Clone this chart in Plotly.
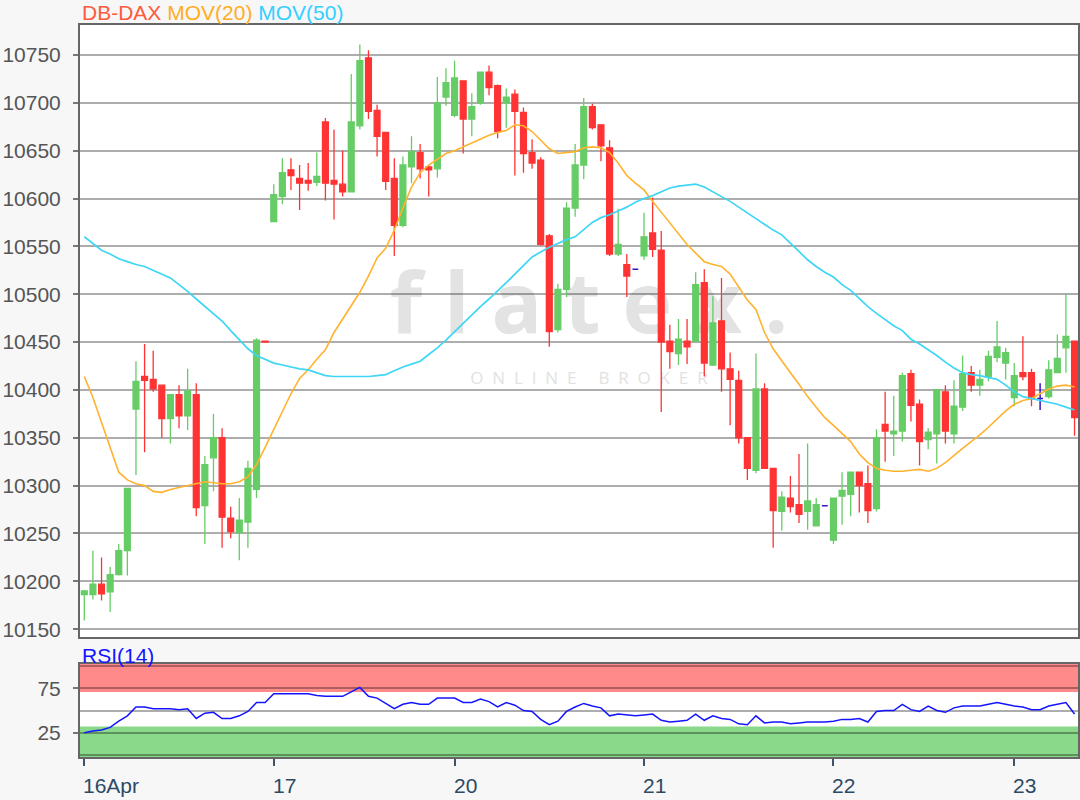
import plotly.graph_objects as go

# ---------------- data ----------------
opens = [10186, 10186, 10197, 10189, 10207, 10232, 10380, 10414, 10411, 10405,
         10370, 10395, 10373, 10395, 10279, 10329, 10350, 10266, 10251, 10262,
         10296, 10451, 10576, 10602, 10630, 10621, 10619, 10617, 10680, 10619,
         10615, 10607, 10676, 10747, 10692, 10669, 10621, 10572, 10633, 10648,
         10633, 10631, 10706, 10687, 10723, 10683, 10700, 10732, 10718, 10700,
         10709, 10690, 10648, 10640, 10561, 10463, 10505, 10590, 10635, 10696,
         10677, 10653, 10542, 10531, 10526, 10540, 10564, 10546, 10451, 10438,
         10451, 10451, 10512, 10426, 10472, 10422, 10410, 10350, 10316, 10401,
         10318, 10273, 10287, 10280, 10273, 10258, 10279, 10243, 10289, 10291,
         10314, 10302, 10276, 10364, 10354, 10357, 10417, 10385, 10348, 10354,
         10398, 10354, 10382, 10418, 10405, 10414, 10434, 10428, 10392, 10418,
         10418, 10391, 10393, 10418, 10444, 10451]
highs = [10191, 10232, 10225, 10215, 10239, 10297, 10430, 10448, 10441, 10405,
         10395, 10405, 10422, 10407, 10331, 10375, 10360, 10278, 10287, 10326,
         10454, 10451, 10615, 10642, 10642, 10635, 10637, 10648, 10684, 10672,
         10650, 10730, 10761, 10755, 10698, 10669, 10642, 10644, 10665, 10657,
         10635, 10727, 10736, 10744, 10723, 10710, 10732, 10739, 10719, 10715,
         10714, 10695, 10662, 10643, 10563, 10511, 10596, 10657, 10705, 10699,
         10677, 10661, 10589, 10542, 10526, 10585, 10601, 10566, 10468, 10474,
         10474, 10523, 10526, 10498, 10517, 10439, 10420, 10350, 10438, 10407,
         10318, 10294, 10310, 10333, 10344, 10287, 10279, 10287, 10314, 10314,
         10314, 10321, 10359, 10398, 10394, 10418, 10421, 10390, 10360, 10401,
         10405, 10410, 10436, 10425, 10421, 10441, 10472, 10444, 10428, 10456,
         10422, 10407, 10431, 10458, 10500, 10451]
lows = [10159, 10181, 10180, 10168, 10206, 10206, 10311, 10335, 10398, 10350,
        10344, 10360, 10358, 10268, 10239, 10294, 10235, 10245, 10222, 10235,
        10287, 10450, 10576, 10594, 10609, 10588, 10608, 10613, 10598, 10578,
        10602, 10607, 10672, 10683, 10644, 10609, 10540, 10570, 10616, 10621,
        10602, 10622, 10697, 10685, 10647, 10665, 10698, 10708, 10663, 10674,
        10624, 10627, 10631, 10551, 10445, 10460, 10497, 10581, 10620, 10672,
        10639, 10540, 10540, 10497, 10526, 10536, 10539, 10377, 10422, 10426,
        10427, 10451, 10414, 10425, 10398, 10363, 10344, 10306, 10313, 10318,
        10235, 10253, 10272, 10261, 10254, 10258, 10279, 10239, 10259, 10268,
        10272, 10261, 10273, 10325, 10331, 10346, 10367, 10321, 10338, 10323,
        10344, 10344, 10378, 10398, 10394, 10409, 10429, 10411, 10383, 10410,
        10383, 10379, 10391, 10418, 10418, 10352]
closes = [10190, 10197, 10187, 10207, 10232, 10297, 10409, 10410, 10401, 10370,
          10395, 10373, 10399, 10277, 10322, 10350, 10267, 10252, 10264, 10318,
          10452, 10450, 10604, 10627, 10624, 10616, 10616, 10623, 10616, 10615,
          10607, 10680, 10744, 10691, 10665, 10618, 10572, 10635, 10649, 10631,
          10630, 10700, 10721, 10726, 10683, 10696, 10732, 10716, 10670, 10706,
          10691, 10647, 10637, 10552, 10461, 10505, 10590, 10635, 10696, 10674,
          10655, 10542, 10552, 10519, 10526, 10560, 10547, 10450, 10440, 10453,
          10445, 10510, 10428, 10470, 10422, 10411, 10350, 10318, 10401, 10318,
          10274, 10288, 10278, 10270, 10284, 10280, 10279, 10287, 10295, 10314,
          10300, 10274, 10350, 10357, 10357, 10415, 10384, 10346, 10356, 10400,
          10357, 10383, 10417, 10405, 10411, 10435, 10445, 10439, 10415, 10414,
          10391, 10391, 10421, 10433, 10456, 10371]
mov20 = [10414, 10392, 10366, 10340, 10314, 10306, 10302, 10300, 10294, 10293,
         10296, 10298, 10300, 10302, 10304, 10303, 10302, 10302, 10304, 10309,
         10322, 10340, 10359, 10378, 10396, 10412, 10421, 10432, 10442, 10460,
         10474, 10488, 10502, 10519, 10538, 10548, 10567, 10590, 10612, 10627,
         10635, 10641, 10647, 10650, 10654, 10658, 10662, 10666, 10669, 10671,
         10677, 10676, 10670, 10661, 10652, 10647, 10648, 10649, 10653, 10654,
         10653, 10648, 10637, 10624, 10616, 10609, 10597, 10586, 10575, 10564,
         10552, 10543, 10534, 10531, 10529, 10521, 10507, 10494, 10484, 10460,
         10443, 10430, 10418, 10406, 10393, 10382, 10371, 10363, 10354, 10346,
         10333, 10324, 10318, 10316, 10315, 10315, 10316, 10317, 10315, 10318,
         10324, 10332, 10339, 10346, 10353, 10361, 10370, 10378, 10385, 10389,
         10391, 10396, 10401, 10404, 10405, 10403]
mov50 = [10560, 10553, 10546, 10542, 10537, 10534, 10531, 10529, 10525, 10521,
         10517, 10510, 10503, 10495, 10487, 10480, 10472, 10462, 10452, 10443,
         10436, 10432, 10428, 10426, 10424, 10422, 10421, 10418, 10415, 10414,
         10414, 10414, 10414, 10414, 10415, 10416, 10420, 10424, 10427, 10430,
         10437, 10444, 10452, 10461, 10470, 10478, 10487, 10495, 10503, 10512,
         10521, 10530, 10539, 10544, 10549, 10553, 10557, 10560, 10568, 10575,
         10580, 10583, 10587, 10591, 10596, 10600, 10603, 10607, 10611, 10613,
         10614, 10615, 10612, 10607, 10602, 10597, 10591, 10585, 10579, 10573,
         10567, 10562, 10553, 10545, 10536, 10529, 10523, 10518, 10510, 10504,
         10495, 10487, 10480, 10473, 10467, 10462, 10453, 10448, 10442, 10436,
         10429, 10423, 10418, 10416, 10415, 10413, 10411, 10405, 10398, 10393,
         10391, 10389, 10387, 10385, 10382, 10379]
rsi14 = [25, 27, 28, 31, 38, 44, 54, 54, 52, 52,
         52, 51, 52, 41, 47, 48, 41, 41, 44, 49,
         59, 59, 69, 69, 69, 69, 69, 67, 66, 66,
         66, 71, 76, 66, 64, 58, 52, 57, 59, 57,
         57, 64, 64, 64, 59, 59, 63, 60, 54, 59,
         56, 50, 49, 40, 34, 38, 49, 54, 58, 55,
         53, 44, 46, 45, 44, 45, 46, 39, 37, 38,
         39, 46, 39, 44, 41, 40, 35, 34, 44, 36,
         37, 37, 35, 36, 37, 37, 37, 38, 40, 40,
         41, 37, 49, 50, 50, 57, 51, 49, 55, 50,
         48, 53, 55, 55, 55, 57, 59, 57, 55, 54,
         51, 51, 55, 57, 59, 46]
day_ticks = [0, 22, 43, 65, 87, 108]
day_labels = ["16Apr", "17", "20", "21", "22", "23"]
price_ticks = [10150, 10200, 10250, 10300, 10350, 10400, 10450,
               10500, 10550, 10600, 10650, 10700, 10750]
rsi_ticks = [25, 75]

# ---------------- styling ----------------
FONT = "Liberation Sans, Arial, sans-serif"
GREEN = "#66cc66"
RED = "#ff3333"
BLUE_DOJI = "#3a16c8"
ORANGE = "#ffb22e"
CYAN = "#3fd6f5"
GRID = "rgba(0,0,0,0.32)"
FRAME = "#666666"

n = len(closes)
xs = list(range(n))
reg = [i for i in xs if opens[i] != closes[i]]
doji = [i for i in xs if opens[i] == closes[i]]

fig = go.Figure()
fig.add_trace(go.Candlestick(
    x=reg,
    open=[opens[i] for i in reg], high=[highs[i] for i in reg],
    low=[lows[i] for i in reg], close=[closes[i] for i in reg],
    increasing=dict(line=dict(color=GREEN, width=1.3), fillcolor=GREEN),
    decreasing=dict(line=dict(color=RED, width=1.3), fillcolor=RED),
    whiskerwidth=0, xaxis="x", yaxis="y", showlegend=False, hoverinfo="skip"))
fig.add_trace(go.Candlestick(
    x=doji,
    open=[opens[i] for i in doji], high=[highs[i] for i in doji],
    low=[lows[i] for i in doji], close=[closes[i] for i in doji],
    increasing=dict(line=dict(color=BLUE_DOJI, width=1.5), fillcolor=BLUE_DOJI),
    decreasing=dict(line=dict(color=BLUE_DOJI, width=1.5), fillcolor=BLUE_DOJI),
    whiskerwidth=0, xaxis="x", yaxis="y", showlegend=False, hoverinfo="skip"))
fig.add_trace(go.Scatter(x=xs, y=mov20, mode="lines", xaxis="x", yaxis="y",
                         line=dict(color=ORANGE, width=1.6), showlegend=False, hoverinfo="skip"))
fig.add_trace(go.Scatter(x=xs, y=mov50, mode="lines", xaxis="x", yaxis="y",
                         line=dict(color=CYAN, width=1.7), showlegend=False, hoverinfo="skip"))
fig.add_trace(go.Scatter(x=xs, y=rsi14, mode="lines", xaxis="x2", yaxis="y2",
                         line=dict(color="#1414ff", width=1.5), showlegend=False, hoverinfo="skip"))

XR = [-0.5, 115.4]

fig.update_layout(
    width=1080, height=800,
    margin=dict(l=80, r=2, t=25, b=43, autoexpand=False),
    paper_bgcolor="#f7f7f7", plot_bgcolor="#ffffff",
    showlegend=False, boxgap=0.2, boxgroupgap=0.15,
    font=dict(family=FONT),
    xaxis=dict(domain=[0, 1], anchor="y", range=XR, showticklabels=False, ticks="",
               showgrid=False, zeroline=False, showline=True, mirror=True, automargin=False,
               linecolor=FRAME, linewidth=2, rangeslider=dict(visible=False)),
    yaxis=dict(domain=[0.1639, 1], anchor="x", range=[10141.8, 10781.3], automargin=False,
               tickvals=price_ticks, ticktext=[str(v) for v in price_ticks],
               ticks="outside", ticklen=5, tickcolor="#777777", tickwidth=1.5,
               ticklabelstandoff=8,
               tickfont=dict(size=21, color="#555555", family=FONT),
               showgrid=True, gridcolor=GRID, gridwidth=1.5, zeroline=False,
               showline=True, mirror=True, linecolor=FRAME, linewidth=2),
    xaxis2=dict(domain=[0, 1], anchor="y2", range=XR, matches="x", automargin=False,
                tickvals=day_ticks, ticks="outside", ticklen=7, tickwidth=2,
                tickcolor="#3d5468", showticklabels=False, showgrid=False,
                zeroline=False, showline=True, mirror=True, linecolor=FRAME, linewidth=2),
    yaxis2=dict(domain=[0, 0.127], anchor="x2", range=[-2.4, 102.4], automargin=False,
                tickvals=rsi_ticks, ticktext=[str(v) for v in rsi_ticks],
                ticks="outside", ticklen=5, tickcolor="#777777", tickwidth=1.5,
                ticklabelstandoff=8,
                tickfont=dict(size=21, color="#555555", family=FONT),
                showgrid=True, gridcolor=GRID, gridwidth=1.5, zeroline=False,
                minor=dict(tickvals=[0, 50, 100], showgrid=True, gridcolor=GRID,
                           gridwidth=1.5, ticks=""),
                showline=True, mirror=True, linecolor=FRAME, linewidth=2),
)

shapes = [
    dict(type="rect", xref="x2 domain", yref="y2", x0=0, x1=1, y0=71, y1=102.4,
         fillcolor="#ff8a8a", line=dict(width=0), layer="below"),
    dict(type="rect", xref="x2 domain", yref="y2", x0=0, x1=1, y0=-2.4, y1=32,
         fillcolor="#8ad88a", line=dict(width=0), layer="below"),
    dict(type="rect", xref="paper", yref="paper", x0=0.28, x1=0.74, y0=0.57, y1=0.66,
         line=dict(width=0), fillcolor="rgba(0,0,0,0)", layer="below",
         label=dict(text="f\u00a0l\u00a0a\u00a0t\u00a0e\u00a0x\u00a0.", textposition="middle center",
                    font=dict(size=84, color="#e3e3e3", family="Open Sans", weight="bold"))),
    dict(type="rect", xref="paper", yref="paper", x0=0.28, x1=0.74, y0=0.50, y1=0.535,
         line=dict(width=0), fillcolor="rgba(0,0,0,0)", layer="below",
         label=dict(text="\u00a0\u00a0".join("ONLINE") + "\u00a0\u00a0\u00a0\u00a0\u00a0" + "\u00a0\u00a0".join("BROKER"),
                    textposition="middle center",
                    font=dict(size=17, color="#e2e2e2", family="Open Sans"))),
]
fig.update_layout(shapes=shapes)

annotations = [
    dict(xref="paper", yref="paper", x=0, y=1.0164, xanchor="left", yanchor="middle",
         showarrow=False,
         text='<span style="color:#ff5a3c">DB-DAX</span> '
              '<span style="color:#ffad1f">MOV(20)</span> '
              '<span style="color:#33d0ff">MOV(50)</span>',
         font=dict(size=21, family=FONT)),
    dict(xref="paper", yref="paper", x=0, y=0.1393, xanchor="left", yanchor="middle",
         showarrow=False, text="RSI(14)", font=dict(size=21, family=FONT, color="#1414ff")),
]
for v, t in zip(day_ticks, day_labels):
    annotations.append(dict(xref="x2", yref="paper", x=v, y=-0.0396, xanchor="left",
                            yanchor="middle", xshift=-3, showarrow=False, text=t,
                            font=dict(size=21, family=FONT, color="#2c4a63")))
fig.update_layout(annotations=annotations)

fig.write_html("out.html", config={"displayModeBar": False},
               post_script="document.body.style.margin='0';document.body.style.padding='0';"
                           "document.body.style.background='#f7f7f7';")
